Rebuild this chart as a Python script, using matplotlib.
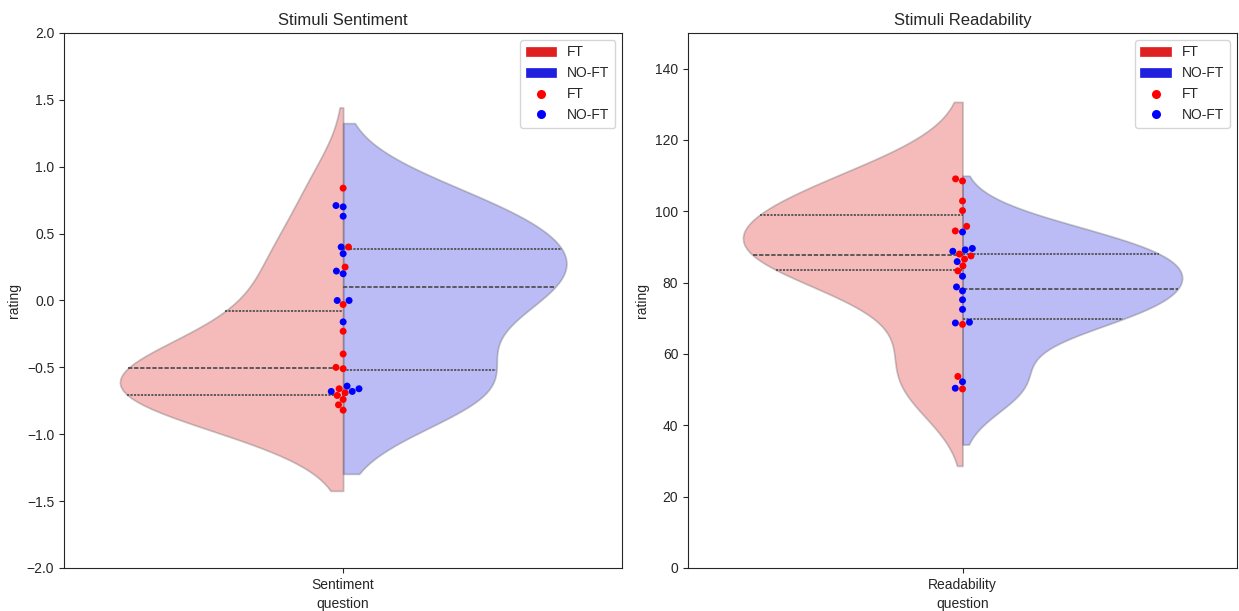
import numpy as np
import pandas as pd
import matplotlib
matplotlib.use("Agg")
import matplotlib.pyplot as plt
from matplotlib.collections import PathCollection
from matplotlib.lines import Line2D
from matplotlib.patches import Patch
import seaborn as sns

sns.set_style("ticks")
plt.rcParams["font.family"] = ["Liberation Sans", "DejaVu Sans"]

GROUPS = ["FT", "NO-FT"]
PALETTE = {"FT": "red", "NO-FT": "blue"}

# ratings per stimulus, read per model
sentiment_ft = [0.84, 0.40, 0.25, -0.03, -0.23, -0.40, -0.50, -0.51,
                -0.66, -0.69, -0.71, -0.74, -0.78, -0.82]
sentiment_noft = [0.71, 0.70, 0.63, 0.40, 0.35, 0.22, 0.20, 0.00, 0.00,
                  -0.16, -0.64, -0.66, -0.68, -0.68]
readability_ft = [109.1, 108.5, 102.9, 100.2, 95.8, 94.5, 88.0, 87.5,
                  86.6, 84.7, 83.3, 68.3, 53.7, 50.2]
readability_noft = [94.2, 89.6, 89.2, 88.8, 85.9, 81.8, 78.8, 77.7,
                    75.2, 72.5, 68.9, 68.7, 52.2, 50.4]


def make_frame(question, ft, noft):
    rows = [(question, "FT", v) for v in ft] + [(question, "NO-FT", v) for v in noft]
    return pd.DataFrame(rows, columns=["question", "model", "rating"])


def draw_panel(ax, df, title, ylim, yticks):
    sns.violinplot(data=df, x="question", y="rating", hue="model",
                   hue_order=GROUPS, palette=PALETTE, split=True,
                   inner="quartile", ax=ax)
    for c in ax.collections:
        c.set_alpha(0.3)
    sns.swarmplot(data=df, x="question", y="rating", hue="model",
                  hue_order=GROUPS, palette=PALETTE, size=5, ax=ax)
    ax.set_title(title, fontsize=12)
    ax.set_ylim(*ylim)
    ax.set_yticks(yticks)
    leg = ax.legend(loc="upper right", fontsize=10, handlelength=2.2)
    # bigger dots and softer patch edges in the legend
    for h in leg.legend_handles:
        if isinstance(h, Line2D):
            h.set_markersize(6.5)
        elif isinstance(h, PathCollection):
            h.set_sizes([42])
        elif isinstance(h, Patch):
            h.set_edgecolor(h.get_facecolor())
            h.set_linewidth(0.5)


fig = plt.figure(figsize=(12.39, 6.11), dpi=100)
ax1 = fig.add_axes([0.0517, 0.0704, 0.4505, 0.8756])
ax2 = fig.add_axes([0.5553, 0.0704, 0.4431, 0.8756])

draw_panel(ax1, make_frame("Sentiment", sentiment_ft, sentiment_noft),
           "Stimuli Sentiment", (-2.0, 2.0), np.arange(-2.0, 2.01, 0.5))
draw_panel(ax2, make_frame("Readability", readability_ft, readability_noft),
           "Stimuli Readability", (0, 150), np.arange(0, 141, 20))

fig.savefig("out.png", dpi=100)
